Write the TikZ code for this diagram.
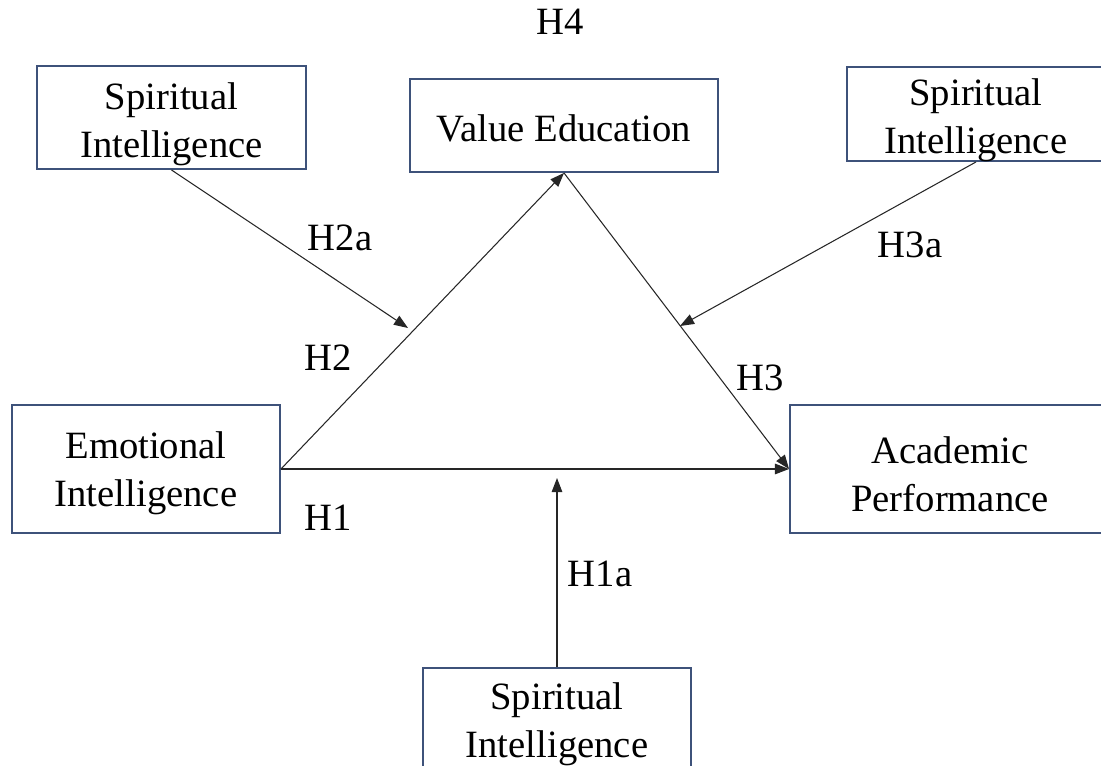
\documentclass[tikz,border=0pt]{standalone}
\usepackage{fontspec}
\setmainfont{Liberation Serif}
\usetikzlibrary{arrows.meta}
\definecolor{boxblue}{RGB}{62,82,122}
\tikzset{
  box/.style={draw=boxblue, line width=1.1pt, inner sep=0pt},
  txt/.style={align=center, inner sep=0pt, font=\fontsize{22}{27.5}\selectfont},
  lbl/.style={font=\fontsize{22}{27}\selectfont, inner sep=0pt},
  link/.style={draw=black!85, line width=0.6pt, -{Triangle[length=8pt,width=6pt]}}
}
\begin{document}
\begin{tikzpicture}[x=0.02cm,y=-0.02cm]
\useasboundingbox (0,0) rectangle (1101,766);
% boxes
\node[box, minimum width=269*0.02cm, minimum height=103*0.02cm] (si2) at (171.5,117.5) {};
\node[box, minimum width=308*0.02cm, minimum height=93*0.02cm] (ve) at (564,125.5) {};
\node[box, minimum width=258*0.02cm, minimum height=94*0.02cm] (si3) at (976,114) {};
\node[box, minimum width=268*0.02cm, minimum height=128*0.02cm] (ei) at (146,469) {};
\node[box, minimum width=320*0.02cm, minimum height=128*0.02cm] (ap) at (950,469) {};
\node[box, minimum width=268*0.02cm, minimum height=108*0.02cm] (si1) at (557,722) {};
% box texts
\node[txt] (si2t) at ([yshift=-0.14cm]si2.center) {Spiritual\\Intelligence};
\node[txt] (vet) at ([yshift=-0.06cm]ve.center) {Value Education};
\node[txt] (si3t) at ([yshift=-0.12cm]si3.center) {Spiritual\\Intelligence};
\node[txt] (eit) at ([yshift=-0.08cm]ei.center) {Emotional\\Intelligence};
\node[txt] (apt) at ([yshift=-0.10cm]ap.center) {Academic\\Performance};
\node[txt] (si1t) at ([yshift=-0.04cm]si1.center) {Spiritual\\Intelligence};
% coordinates on the paths
\coordinate (m2) at (408,328);
\coordinate (m3) at (680,326);
\coordinate (m1) at (557,478);
% main paths
\draw[link] (ei.east) -- (ve.south);
\draw[link] (ve.south) -- (ap.west);
\draw[link] (ei.east) -- (ap.west);
% moderator paths
\draw[link] (si2.south) -- (m2);
\draw[link] (si3.south) -- (m3);
\draw[link] (si1.north) -- (m1);
% labels
\node[lbl] (h4) at (560,22) {H4};
\node[lbl] (h2a) at (340,238) {H2a};
\node[lbl] (h3a) at (910,245) {H3a};
\node[lbl] (h2) at (328,358) {H2};
\node[lbl] (h3) at (760,378) {H3};
\node[lbl] (h1) at (328,518) {H1};
\node[lbl] (h1a) at (600,574) {H1a};
\end{tikzpicture}
\end{document}
